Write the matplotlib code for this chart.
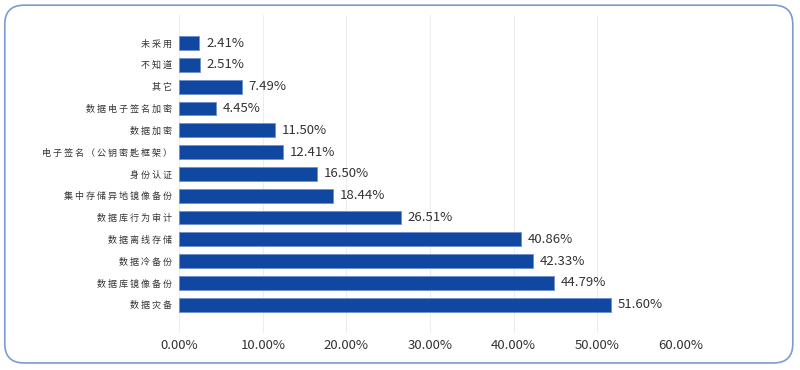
import matplotlib.pyplot as plt
from matplotlib.patches import FancyBboxPatch
from matplotlib.ticker import FuncFormatter

plt.rcParams['font.family'] = ['Noto Sans CJK SC', 'DejaVu Sans']

labels = ['未采用', '不知道', '其它', '数据电子签名加密', '数据加密', '电子签名（公钥密匙框架）',
          '身份认证', '集中存储异地镜像备份', '数据库行为审计', '数据离线存储', '数据冷备份',
          '数据库镜像备份', '数据灾备']
values = [2.41, 2.51, 7.49, 4.45, 11.50, 12.41, 16.50, 18.44, 26.51, 40.86, 42.33, 44.79, 51.60]
xticks = [0, 10, 20, 30, 40, 50, 60]

fig = plt.figure(figsize=(8, 3.7), dpi=100)

# rounded frame around the whole chart
frame = FancyBboxPatch((0.006, 0.019), 0.985, 0.967, boxstyle='round,pad=0,rounding_size=0.024',
                       transform=fig.transFigure, facecolor='white', edgecolor='#7c9bd0',
                       linewidth=1.2, mutation_aspect=800/370, zorder=0)
fig.patches.append(frame)

ax = fig.add_axes([0.224, 0.10, 0.627, 0.86])
ax.set_zorder(2)
ax.set_facecolor('none')
y = list(range(len(labels)))
bars = ax.barh(y, values, height=0.64, color='#0f47a1', edgecolor='#6f8fcf', linewidth=0.6, zorder=3)

for yi, v in zip(y, values):
    ax.text(v + 0.8, yi, f'{v:.2f}%', va='center', ha='left', fontsize=9.5,
            color='#333333', fontweight='medium')

ax.set_yticks(y)
ax.set_yticklabels([' '.join(l) for l in labels], fontsize=6.5, color='#333333')
ax.set_ylim(len(labels) - 1 + 1.3, -1.3)
ax.set_xlim(0, 60)
ax.set_xticks(xticks)
ax.xaxis.set_major_formatter(FuncFormatter(lambda v, p: f'{v:.2f}%'))
for t in ax.get_xticklabels():
    t.set_fontsize(9.5)
    t.set_color('#333333')
    t.set_fontweight('medium')
ax.tick_params(length=0)
ax.tick_params(axis='x', pad=4)
ax.tick_params(axis='y', pad=5)
ax.grid(axis='x', color='#ebedf0', linewidth=0.8, zorder=0)
for s in ax.spines.values():
    s.set_visible(False)

fig.savefig('out.png', dpi=100)
